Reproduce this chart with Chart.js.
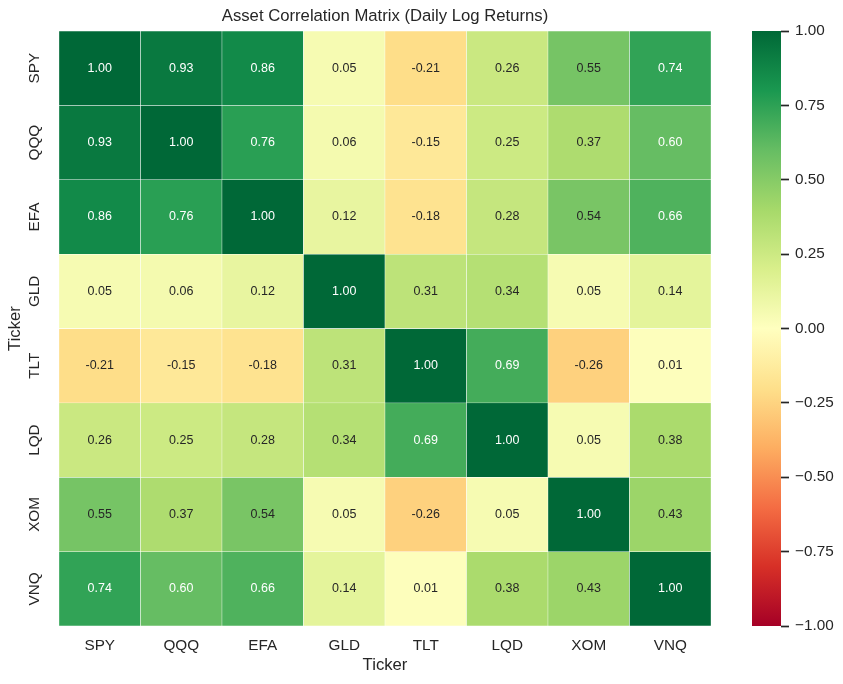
<!DOCTYPE html>
<html>
<head>
<meta charset="utf-8">
<script src="https://cdn.jsdelivr.net/npm/chart.js@4"></script>
<style>
  body { margin: 0; background: #fff; }
  #wrap { position: relative; width: 843px; height: 684px; }
  canvas { position: absolute; top: 0; }
</style>
</head>
<body>
<div id="wrap">
  <canvas id="heat" width="843" height="684" style="left:0"></canvas>
  <canvas id="cbar" width="103" height="684" style="left:740px"></canvas>
</div>
<script>
// tickers, same order on both axes
const tickers = ['SPY', 'QQQ', 'EFA', 'GLD', 'TLT', 'LQD', 'XOM', 'VNQ'];

// correlation rows
const rowSPY = [1.00, 0.93, 0.86, 0.05, -0.21, 0.26, 0.55, 0.74];
const rowQQQ = [0.93, 1.00, 0.76, 0.06, -0.15, 0.25, 0.37, 0.60];
const rowEFA = [0.86, 0.76, 1.00, 0.12, -0.18, 0.28, 0.54, 0.66];
const rowGLD = [0.05, 0.06, 0.12, 1.00, 0.31, 0.34, 0.05, 0.14];
const rowTLT = [-0.21, -0.15, -0.18, 0.31, 1.00, 0.69, -0.26, 0.01];
const rowLQD = [0.26, 0.25, 0.28, 0.34, 0.69, 1.00, 0.05, 0.38];
const rowXOM = [0.55, 0.37, 0.54, 0.05, -0.26, 0.05, 1.00, 0.43];
const rowVNQ = [0.74, 0.60, 0.66, 0.14, 0.01, 0.38, 0.43, 1.00];
const rows = [rowSPY, rowQQQ, rowEFA, rowGLD, rowTLT, rowLQD, rowXOM, rowVNQ];

// colorbar ticks
const cbarTicks = [1.00, 0.75, 0.50, 0.25, 0.00, -0.25, -0.50, -0.75, -1.00];

const INK = '#262626';
const FONT = "'Liberation Sans', Arial, sans-serif";

// RdYlGn
const cmap = ['#a50026', '#d73027', '#f46d43', '#fdae61', '#fee08b', '#ffffbf',
              '#d9ef8b', '#a6d96a', '#66bd63', '#1a9850', '#006837'];

function hexRgb(h) {
    return [parseInt(h.slice(1, 3), 16), parseInt(h.slice(3, 5), 16), parseInt(h.slice(5, 7), 16)];
}

function colorRgb(v) {
    let t = (Math.max(-1, Math.min(1, v)) + 1) / 2 * (cmap.length - 1);
    let i = Math.min(Math.floor(t), cmap.length - 2);
    let f = t - i;
    let a = hexRgb(cmap[i]), b = hexRgb(cmap[i + 1]);
    return a.map((c, k) => Math.round(c + (b[k] - c) * f));
}

function colorOf(v) {
    const c = colorRgb(v);
    return 'rgb(' + c.join(',') + ')';
}

// same rule seaborn uses to pick annotation colour
function textColor(v) {
    const lin = colorRgb(v).map(c => {
        c = c / 255;
        return c <= 0.03928 ? c / 12.92 : Math.pow((c + 0.055) / 1.055, 2.4);
    });
    const lum = 0.2126 * lin[0] + 0.7152 * lin[1] + 0.0722 * lin[2];
    return lum > 0.408 ? INK : '#ffffff';
}

const datasets = rows.map((r, i) => ({
    label: tickers[i],
    data: r.map(() => 1),
    backgroundColor: r.map(colorOf),
    borderColor: '#ffffff',
    borderWidth: 0.5,
    borderSkipped: false,
    barPercentage: 1,
    categoryPercentage: 1
}));

const cellLabels = {
    id: 'cellLabels',
    afterDatasetsDraw(chart) {
        const ctx = chart.ctx;
        ctx.save();
        ctx.font = '12.5px ' + FONT;
        ctx.textAlign = 'center';
        ctx.textBaseline = 'middle';
        rows.forEach((r, i) => {
            chart.getDatasetMeta(i).data.forEach((el, j) => {
                const p = el.getCenterPoint();
                ctx.fillStyle = textColor(r[j]);
                ctx.fillText(r[j].toFixed(2), p.x, p.y);
            });
        });
        ctx.restore();
    }
};

new Chart(document.getElementById('heat'), {
    type: 'bar',
    data: { labels: tickers, datasets: datasets },
    options: {
        responsive: false,
        animation: false,
        layout: { padding: { left: 0, top: 0, right: 132, bottom: 0 } },
        plugins: {
            legend: { display: false },
            tooltip: { enabled: false },
            title: {
                display: true,
                text: 'Asset Correlation Matrix (Daily Log Returns)',
                color: INK,
                fullSize: false,
                font: { family: FONT, size: 16.7, weight: 'normal' },
                padding: { top: 6, bottom: 5 }
            }
        },
        scales: {
            x: {
                stacked: true,
                grid: { display: false, drawTicks: false, tickLength: 0 },
                border: { display: false },
                ticks: { color: INK, font: { family: FONT, size: 15.3 }, padding: 11, maxRotation: 0 },
                title: { display: true, text: 'Ticker', color: INK, font: { family: FONT, size: 16.7 }, padding: { top: 0, bottom: 9 } },
                afterFit(scale) { scale.height = 58; }
            },
            y: {
                stacked: true,
                reverse: true,
                min: 0,
                max: tickers.length,
                grid: { display: false, drawTicks: false, tickLength: 0 },
                border: { display: false },
                afterBuildTicks(scale) {
                    scale.ticks = tickers.map((_, i) => ({ value: i + 0.5 }));
                },
                ticks: {
                    autoSkip: false,
                    color: INK,
                    font: { family: FONT, size: 15.3 },
                    minRotation: 90,
                    maxRotation: 90,
                    crossAlign: 'center',
                    padding: 6,
                    callback: (v) => tickers[Math.floor(v)]
                },
                title: { display: true, text: 'Ticker', color: INK, font: { family: FONT, size: 16.7 }, padding: { top: 5, bottom: 0 } },
                afterFit(scale) { scale.width = 59; }
            }
        }
    },
    plugins: [cellLabels]
});

// colorbar: gradient painted in the chart area, ticks from the library's y scale
const gradientFill = {
    id: 'gradientFill',
    beforeDatasetsDraw(chart) {
        const a = chart.chartArea, ctx = chart.ctx;
        const g = ctx.createLinearGradient(0, a.bottom, 0, a.top);
        cmap.forEach((c, i) => g.addColorStop(i / (cmap.length - 1), c));
        ctx.save();
        ctx.fillStyle = g;
        ctx.fillRect(a.left, a.top, a.right - a.left, a.bottom - a.top);
        ctx.restore();
    }
};

new Chart(document.getElementById('cbar'), {
    type: 'scatter',
    data: { datasets: [{ data: [] }] },
    options: {
        responsive: false,
        animation: false,
        layout: { padding: { left: 12, top: 31, right: 0, bottom: 58 } },
        plugins: { legend: { display: false }, tooltip: { enabled: false } },
        scales: {
            x: { display: false, min: 0, max: 1 },
            y: {
                position: 'right',
                min: -1,
                max: 1,
                afterBuildTicks(scale) {
                    scale.ticks = cbarTicks.map(v => ({ value: v }));
                },
                grid: { drawOnChartArea: false, drawTicks: true, tickLength: 8, tickColor: INK, tickWidth: 1.7 },
                border: { display: false },
                ticks: {
                    color: INK,
                    padding: 6,
                    font: { family: FONT, size: 15.3 },
                    callback: (v) => v.toFixed(2).replace('-', '\u2212')
                },
                afterFit(scale) { scale.width = 62; }
            }
        }
    },
    plugins: [gradientFill]
});
</script>
</body>
</html>
